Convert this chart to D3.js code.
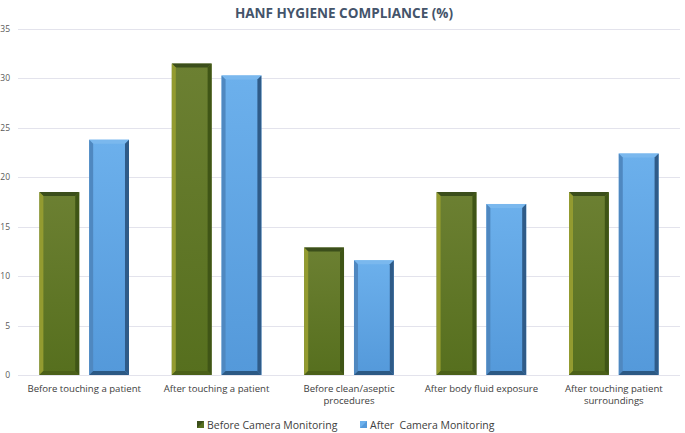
<!DOCTYPE html>
<html>
<head>
<meta charset="utf-8">
<script src="https://cdn.jsdelivr.net/npm/d3@7"></script>
<style>
  body { margin: 0; background: #fff; }
  text { font-family: "Open Sans", "Liberation Sans", sans-serif; }
</style>
</head>
<body>
<script>
var categories = ["Before touching a patient", "After touching a patient", "Before clean/aseptic procedures", "After body fluid exposure", "After touching patient surroundings"];
var labelLines = [["Before touching a patient"], ["After touching a patient"], ["Before clean/aseptic", "procedures"], ["After body fluid exposure"], ["After touching patient", "surroundings"]];
var seriesNames = ["Before Camera Monitoring", "After  Camera Monitoring"];
var beforeValues = [18.5, 31.5, 12.9, 18.5, 18.5];
var afterValues = [23.8, 30.3, 11.6, 17.3, 22.4];
var yTicks = [0, 5, 10, 15, 20, 25, 30, 35];

var width = 685, height = 433;
var margin = {left: 18, right: 5, top: 29, bottom: 58};

var palettes = [
  {face: ["#6c8032", "#566f1e"], left: "#939b30", right: "#3f5516", top: "#3b4e1b", bottom: "#4b6019"},
  {face: ["#6cb0ec", "#5499da"], left: "#4f88c0", right: "#2f5b88", top: "#7ab8ee", bottom: "#2c5984"}
];

var svg = d3.select("body").append("svg")
    .attr("width", width)
    .attr("height", height);

var defs = svg.append("defs");
palettes.forEach(function(p, i) {
  var g = defs.append("linearGradient").attr("id", "face" + i)
      .attr("x1", 0).attr("y1", 0).attr("x2", 0).attr("y2", 1);
  g.append("stop").attr("offset", "0%").attr("stop-color", p.face[0]);
  g.append("stop").attr("offset", "100%").attr("stop-color", p.face[1]);
});

var x0 = d3.scaleBand()
    .domain(categories)
    .range([margin.left, width - margin.right]);

var x1 = d3.scaleBand()
    .domain([0, 1])
    .range([0, x0.bandwidth()])
    .paddingInner(0.2)
    .paddingOuter(0.43);

var y = d3.scaleLinear()
    .domain([0, 35])
    .range([height - margin.bottom, margin.top]);

// gridlines
svg.append("g")
    .selectAll("line")
    .data(yTicks)
    .enter().append("line")
    .attr("x1", margin.left)
    .attr("x2", width - margin.right)
    .attr("y1", function(d) { return Math.round(y(d)) + 0.5; })
    .attr("y2", function(d) { return Math.round(y(d)) + 0.5; })
    .style("stroke", "#e3e3ec")
    .style("stroke-width", 1);

// y tick labels
svg.append("g")
    .selectAll("text")
    .data(yTicks)
    .enter().append("text")
    .attr("x", 10)
    .attr("y", function(d) { return y(d) + 3; })
    .attr("text-anchor", "end")
    .style("font-size", "8.5px")
    .style("fill", "#595959")
    .text(function(d) { return d; });

// bars with bevel
var bars = [];
categories.forEach(function(c, i) {
  bars.push({cat: c, s: 0, v: beforeValues[i]});
  bars.push({cat: c, s: 1, v: afterValues[i]});
});

var bev = 4;
var barG = svg.append("g")
    .selectAll("g")
    .data(bars)
    .enter().append("g");

barG.each(function(d) {
  var g = d3.select(this);
  var p = palettes[d.s];
  var xl = x0(d.cat) + x1(d.s), xr = xl + x1.bandwidth();
  var yt = y(d.v), yb = y(0);
  var pts = function(a) { return a.map(function(q) { return q.join(","); }).join(" "); };
  g.append("rect")
      .attr("x", xl).attr("y", yt)
      .attr("width", xr - xl).attr("height", yb - yt)
      .style("fill", "url(#face" + d.s + ")");
  g.append("polygon")
      .attr("points", pts([[xl, yt], [xr, yt], [xr - bev, yt + bev], [xl + bev, yt + bev]]))
      .style("fill", p.top);
  g.append("polygon")
      .attr("points", pts([[xl, yt], [xl + bev, yt + bev], [xl + bev, yb - bev], [xl, yb]]))
      .style("fill", p.left);
  g.append("polygon")
      .attr("points", pts([[xr, yt], [xr, yb], [xr - bev, yb - bev], [xr - bev, yt + bev]]))
      .style("fill", p.right);
  g.append("polygon")
      .attr("points", pts([[xl, yb], [xl + bev, yb - bev], [xr - bev, yb - bev], [xr, yb]]))
      .style("fill", p.bottom);
});

// x labels
var xl = svg.append("g")
    .selectAll("text")
    .data(categories)
    .enter().append("text")
    .attr("x", function(d) { return x0(d) + x0.bandwidth() / 2; })
    .attr("y", height - margin.bottom + 17)
    .attr("text-anchor", "middle")
    .style("font-size", "9.6px")
    .style("fill", "#404040");

xl.each(function(d, i) {
  var t = d3.select(this);
  labelLines[i].forEach(function(line, j) {
    t.append("tspan")
      .attr("x", x0(d) + x0.bandwidth() / 2)
      .attr("dy", j === 0 ? 0 : 12)
      .text(line);
  });
});

// title
svg.append("text")
    .attr("x", 344)
    .attr("y", 18)
    .attr("text-anchor", "middle")
    .style("font-size", "13.5px")
    .style("font-weight", "bold")
    .style("fill", "#44546a")
    .text("HANF HYGIENE COMPLIANCE (%)");

// legend
var legendX = [197, 360];
var leg = svg.append("g")
    .selectAll("g")
    .data(seriesNames)
    .enter().append("g")
    .attr("transform", function(d, i) { return "translate(" + legendX[i] + "," + 421 + ")"; });

leg.append("rect")
    .attr("width", 7).attr("height", 7)
    .style("fill", function(d, i) { return palettes[i].face[1]; });
leg.append("polygon")
    .attr("points", "0,0 7,0 0,7")
    .style("fill", function(d, i) { return i === 0 ? palettes[0].top : palettes[1].face[0]; });
leg.append("text")
    .attr("x", 10)
    .attr("y", 7.5)
    .style("font-size", "10.5px")
    .style("white-space", "pre")
    .style("fill", "#404040")
    .text(function(d) { return d; });
</script>
</body>
</html>
